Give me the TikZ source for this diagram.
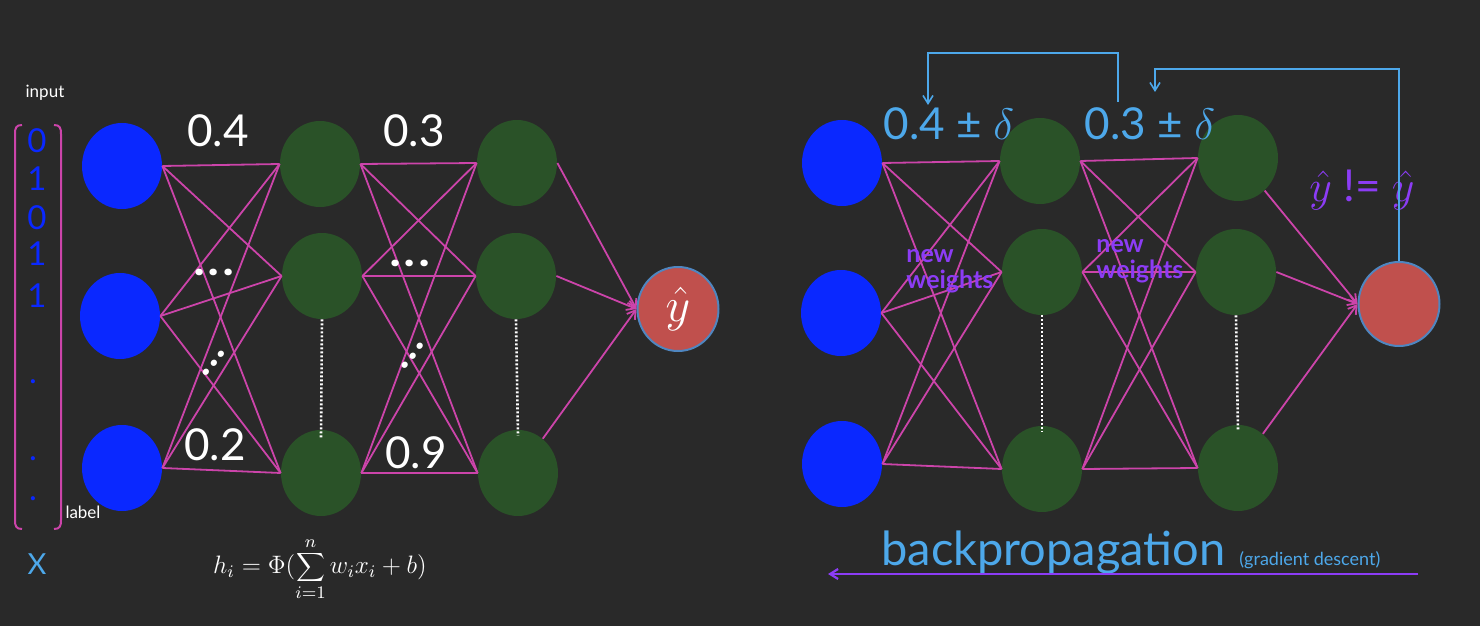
\RequirePackage{fix-cm}
\documentclass[tikz,border=0pt]{standalone}
\usepackage{fontspec}
\setmainfont{Lato}
\newfontfamily\popp{Poppins}
\usetikzlibrary{shapes.geometric,arrows.meta}
\definecolor{bgc}{HTML}{292929}
\definecolor{inblue}{HTML}{0A28FF}
\definecolor{hgreen}{HTML}{2A5228}
\definecolor{outred}{HTML}{C0504D}
\definecolor{outrim}{HTML}{4F86C0}
\definecolor{mag}{HTML}{CC44AA}
\definecolor{lblue}{HTML}{4DA8EA}
\definecolor{purp}{HTML}{8C3CF5}
\newcommand{\mydots}[1]{.\kern#1.\kern#1.}
\begin{document}
\begin{tikzpicture}[x=0.5pt,y=-0.5pt,
  neuron/.style={ellipse,minimum width=40pt,minimum height=43pt,inner sep=0pt},
  innode/.style={neuron,fill=inblue},
  hidnode/.style={neuron,fill=hgreen},
  outnode/.style={neuron,minimum width=40.5pt,minimum height=42pt,fill=outred,draw=outrim,line width=1pt},
  edge/.style={draw=mag,line width=0.9pt},
  outedge/.style={edge,-{Straight Barb[length=4pt,width=5pt]}},
  vdots/.style={draw=white,line width=1.3pt,dash pattern=on 1pt off 1pt},
  txt/.style={inner sep=0pt,anchor=base},
  wlabel/.style={txt,text=white,font=\fontsize{22}{26}\selectfont},
  blabel/.style={txt,text=lblue,font=\fontsize{22}{26}\selectfont},
  small/.style={txt,text=white,font=\fontsize{8.5}{10}\selectfont},
  vecdig/.style={txt,text=inblue,font=\fontsize{16.5}{18}\selectfont},
  ell/.style={inner sep=0pt,text=white,font=\popp\bfseries\fontsize{18}{22}\selectfont},
  neww/.style={inner sep=0pt,anchor=north west,align=left,text=purp,font=\bfseries\fontsize{12.5}{13}\selectfont},
  barrow/.style={draw=lblue,line width=0.8pt,-{Straight Barb[length=4pt,width=5pt]}},
  parrow/.style={draw=purp,line width=1.1pt,-{Straight Barb[length=4pt,width=5pt]}},
]
\fill[bgc] (0,0) rectangle (1480,626);
\useasboundingbox (0,0) rectangle (1480,626);

% ---------- left network ----------
\node[small] (inp) at (45,98) {input};
\draw[mag,line width=1pt] (22,125) .. controls (16,125) and (15,128) .. (15,134) -- (15,520) .. controls (15,526) and (16,529) .. (22,529);
\draw[mag,line width=1pt] (54,125) .. controls (60,125) and (61,128) .. (61,134) -- (61,520) .. controls (61,526) and (60,529) .. (54,529);
\foreach \d/\y [count=\i] in {0/153,1/191,0/229,1/265,1/307}
  \node[vecdig] (v\i) at (37,\y) {\d};
\foreach \y [count=\i] in {383,460,500}
  \node[vecdig] (vd\i) at (33,\y) {.};
\node[small] (lab) at (83,518) {label};
\node[txt,text=lblue,font=\fontsize{14.5}{16}\selectfont] (X) at (37,574) {X};

\node[innode] (i1) at (122,166) {};
\node[innode] (i2) at (120,316) {};
\node[innode] (i3) at (122,468) {};
\node[hidnode] (a1) at (320,164) {};
\node[hidnode] (a2) at (322,276) {};
\node[hidnode] (a3) at (321,473) {};
\node[hidnode] (b1) at (517,163) {};
\node[hidnode] (b2) at (516,276) {};
\node[hidnode] (b3) at (518,473) {};
\node[outnode] (o) at (678,309) {};
\node[text=white,font=\fontsize{24}{26}\selectfont] (yh) at (678,309) {$\hat{y}$};

\foreach \s in {1,2,3}
  \foreach \t in {1,2,3} {
    \draw[edge] (i\s.east) -- (a\t.west);
    \draw[edge] (a\s.east) -- (b\t.west);
  }
\draw[outedge] (b1.east) -- (o.west);
\draw[outedge] (b2.east) -- (o.west);
\draw[outedge] (b3) -- (o.west);
\draw[vdots] (a2.south) -- ([yshift=-4pt]a3.north);
\draw[vdots] (b2.south) -- ([yshift=-3pt]b3.north);

\node[wlabel] (w04) at (218,147) {0.4};
\node[wlabel] (w03) at (414,147) {0.3};
\node[wlabel] (w02) at (215,460) {0.2};
\node[wlabel] (w09) at (416,468) {0.9};
\node[ell] (e1) at (214,272) {\mydots{2pt}};
\node[ell] (e2) at (410,263) {\mydots{2pt}};
\node[ell,rotate=50,font=\popp\bfseries\fontsize{16}{20}\selectfont] (e3) at (214,363) {\mydots{1.5pt}};
\node[ell,rotate=52,font=\popp\bfseries\fontsize{16}{20}\selectfont] (e4) at (413,356) {\mydots{1.5pt}};

\node[text=white,font=\fontsize{12.6}{15}\selectfont,inner sep=0pt] (f) at (320,569)
  {$\displaystyle h_i = \Phi(\sum_{i=1}^{n} w_i x_i + b)$};

% ---------- right network ----------
\node[innode] (ri1) at (842,163) {};
\node[innode] (ri2) at (841,313) {};
\node[innode] (ri3) at (842,464) {};
\node[hidnode] (ra1) at (1040,161) {};
\node[hidnode] (ra2) at (1042,272) {};
\node[hidnode] (ra3) at (1042,469) {};
\node[hidnode] (rb1) at (1238,158) {};
\node[hidnode] (rb2) at (1236,272) {};
\node[hidnode] (rb3) at (1238,468) {};
\node[outnode] (ro) at (1399,304) {};

\foreach \s in {1,2,3}
  \foreach \t in {1,2,3} {
    \draw[edge] (ri\s.east) -- (ra\t.west);
    \draw[edge] (ra\s.east) -- (rb\t.west);
  }
\draw[outedge] (rb1) -- (ro.west);
\draw[outedge] (rb2.east) -- (ro.west);
\draw[outedge] (rb3) -- (ro.west);
\draw[vdots] (ra2.south) -- ([yshift=-3pt]ra3.north);
\draw[vdots] (rb2.south) -- ([yshift=-3pt]rb3.north);

\node[neww] (nw1) at (906,249) {new\\weights};
\node[neww] (nw2) at (1096,239) {new\\weights};

\node[blabel] (d04) at (949,140) {0.4 ± $\delta$};
\node[blabel] (d03) at (1150,140) {0.3 ± $\delta$};
\node[txt,text=purp,font=\fontsize{22}{26}\selectfont] (neq) at (1362,202) {$\hat{y}$ != $\hat{y}$};

\coordinate (p1) at (1118,102);
\coordinate (q1) at (928,105);
\coordinate (q2) at (1155,92);
\draw[barrow] (p1) -- ++(0,-49) -| (q1);
\draw[barrow] (ro.north) -- ++(0,-192) -| (q2);

\node[txt,anchor=base west,text=lblue,font=\fontsize{23.5}{26}\selectfont] (bp) at (881,565) {backpropagation};
\node[txt,anchor=base west,text=lblue,font=\fontsize{9}{11}\selectfont] (gd) at (1239,565) {(gradient descent)};
\coordinate (bs) at (1418,574);
\coordinate (be) at (828,574);
\draw[parrow] (bs) -- (be);
\end{tikzpicture}
\end{document}
